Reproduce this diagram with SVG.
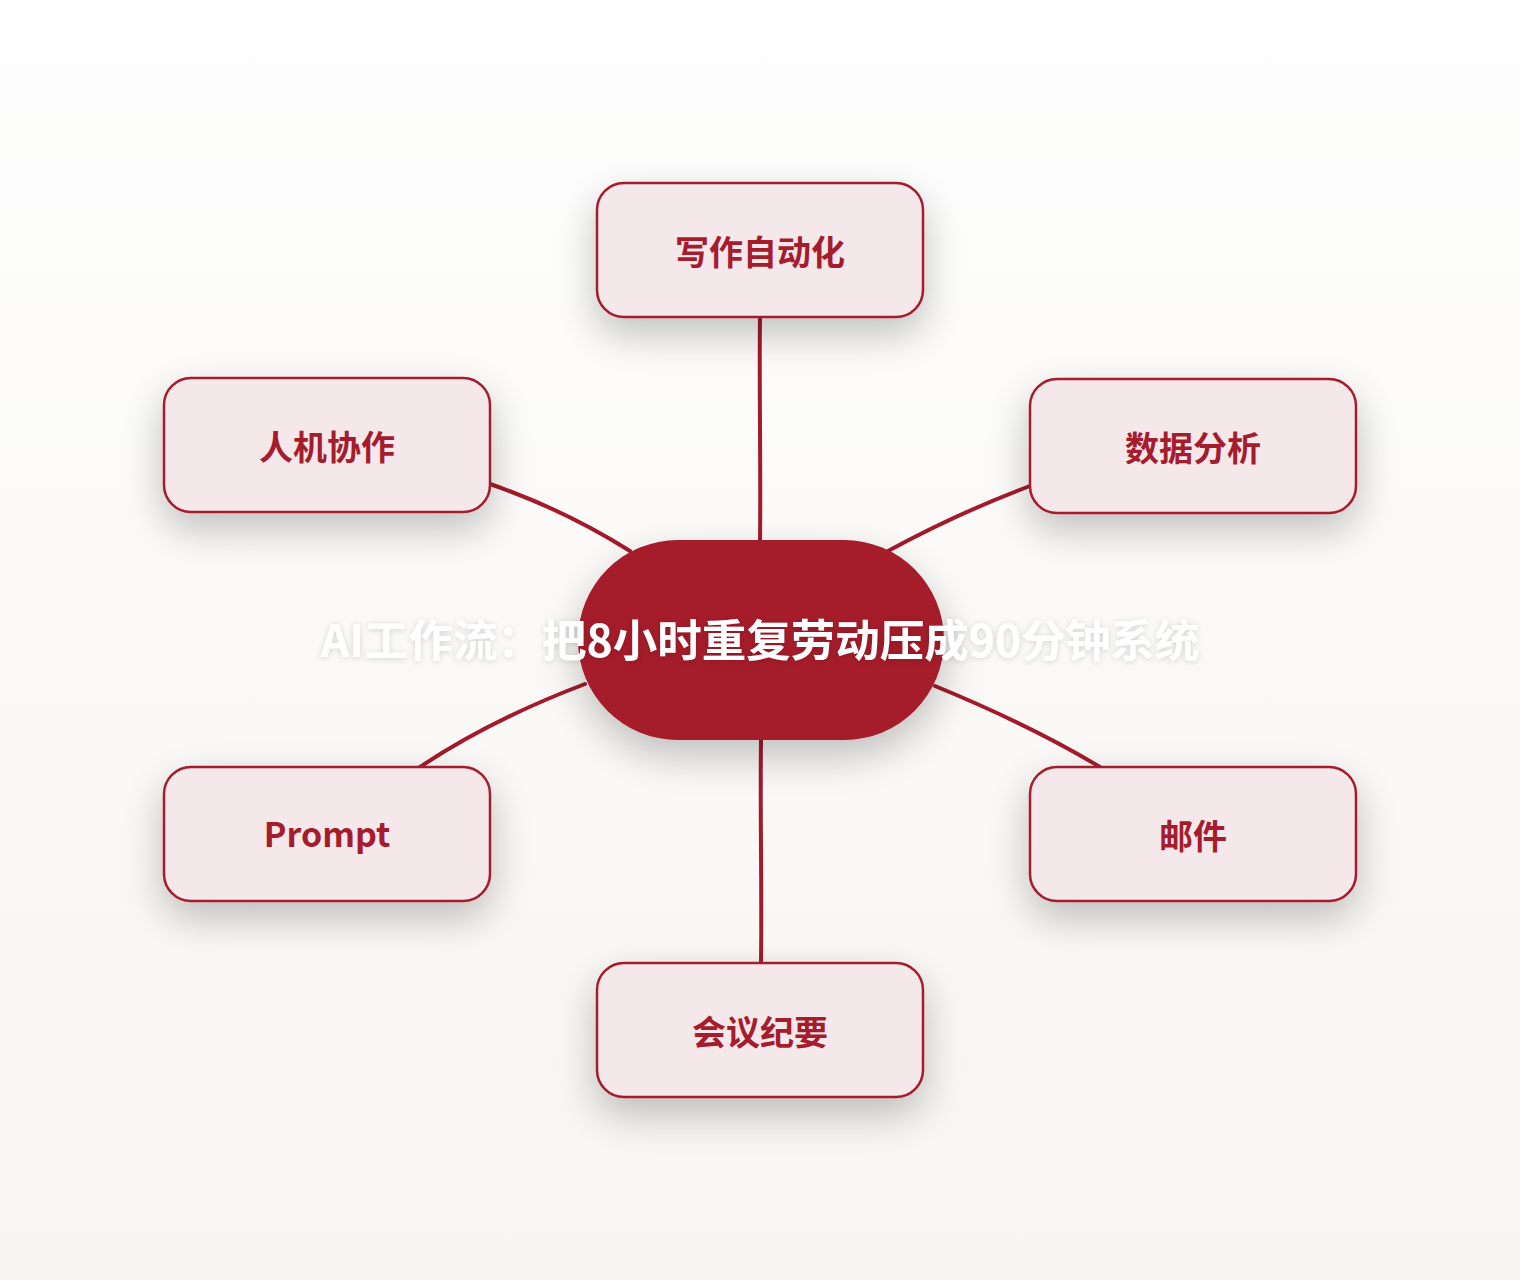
<svg xmlns="http://www.w3.org/2000/svg" width="1520" height="1280" viewBox="0 0 1520 1280">
  <defs>
    <linearGradient id="bg" x1="0" y1="0" x2="0" y2="1">
      <stop offset="0" stop-color="#fefefe"/>
      <stop offset="1" stop-color="#f7f5f1"/>
    </linearGradient>
    <filter id="shadow" x="-40%" y="-40%" width="180%" height="200%">
      <feGaussianBlur in="SourceAlpha" stdDeviation="20"/>
      <feOffset dx="0" dy="16" result="b"/>
      <feComponentTransfer><feFuncA type="linear" slope="0.24"/></feComponentTransfer>
      <feMerge><feMergeNode/><feMergeNode in="SourceGraphic"/></feMerge>
    </filter>
    <filter id="tshadow" x="-10%" y="-40%" width="120%" height="180%">
      <feGaussianBlur in="SourceAlpha" stdDeviation="3"/>
      <feOffset dx="0" dy="1"/>
      <feComponentTransfer><feFuncA type="linear" slope="0.16"/></feComponentTransfer>
      <feMerge><feMergeNode/><feMergeNode in="SourceGraphic"/></feMerge>
    </filter>
  </defs>
  <style>
    .conn { fill: none; stroke: #a21a2b; stroke-width: 4; stroke-linecap: round; }
    .box { fill: #f5e8eb; stroke: #a51c2d; stroke-width: 2.5; }
    .lbl { font-family: "Noto Sans CJK SC", "Noto Sans", sans-serif; font-weight: 700; font-size: 34px; fill: #a51c2d; text-anchor: middle; }
    .ctr { font-family: "Noto Sans CJK SC", "Noto Sans", sans-serif; font-weight: 700; font-size: 44.5px; fill: #ffffff; text-anchor: middle; }
  </style>
  <rect width="1520" height="1280" fill="url(#bg)"/>

  <g id="connectors">
    <path class="conn" d="M760,317 C759,390 761,470 760,541"/>
    <path class="conn" d="M490,484 Q565,510 630,551"/>
    <path class="conn" d="M1030,486 Q958,513 888,551"/>
    <path class="conn" d="M585,684 Q490,720 420,767"/>
    <path class="conn" d="M935,686 Q1030,725 1100,767"/>
    <path class="conn" d="M761,740 C760,810 762,890 761,963"/>
  </g>

  <g id="node-top">
    <rect class="box" x="597" y="183" width="326" height="134" rx="27" filter="url(#shadow)"/>
    <text class="lbl" x="760" y="265">写作自动化</text>
  </g>
  <g id="node-left-top">
    <rect class="box" x="164" y="378" width="326" height="134" rx="27" filter="url(#shadow)"/>
    <text class="lbl" x="327" y="460">人机协作</text>
  </g>
  <g id="node-right-top">
    <rect class="box" x="1030" y="379" width="326" height="134" rx="27" filter="url(#shadow)"/>
    <text class="lbl" x="1193" y="461">数据分析</text>
  </g>
  <g id="node-left-bottom">
    <rect class="box" x="164" y="767" width="326" height="134" rx="27" filter="url(#shadow)"/>
    <text class="lbl" x="327" y="847">Prompt</text>
  </g>
  <g id="node-right-bottom">
    <rect class="box" x="1030" y="767" width="326" height="134" rx="27" filter="url(#shadow)"/>
    <text class="lbl" x="1193" y="849">邮件</text>
  </g>
  <g id="node-bottom">
    <rect class="box" x="597" y="963" width="326" height="134" rx="27" filter="url(#shadow)"/>
    <text class="lbl" x="760" y="1045">会议纪要</text>
  </g>

  <g id="node-center">
    <rect x="578" y="540" width="366" height="200" rx="100" ry="100" fill="#a51a2b" filter="url(#shadow)"/>
    <text class="ctr" x="760" y="657" filter="url(#tshadow)">AI工作流：把8小时重复劳动压成90分钟系统</text>
  </g>
</svg>
